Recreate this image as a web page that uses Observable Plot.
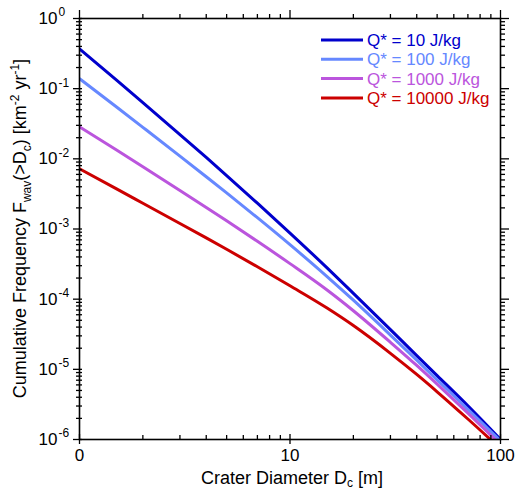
<!DOCTYPE html>
<html>
<head>
<meta charset="utf-8">
<script src="https://cdn.jsdelivr.net/npm/d3@7"></script>
<script src="https://cdn.jsdelivr.net/npm/@observablehq/plot@0.6"></script>
<style>
  html, body { margin: 0; padding: 0; background: #fff; }
  #chart svg { display: block; }
</style>
</head>
<body>
<div id="chart"></div>
<script>
// ---- data ----
const diameters = [1, 1.5, 2, 3, 4, 5, 7, 10, 15, 20, 30, 40, 50, 70, 100];
const seriesNames = ["Q* = 10 J/kg", "Q* = 100 J/kg", "Q* = 1000 J/kg", "Q* = 10000 J/kg"];
const seriesColors = ["#0000cc", "#6688ff", "#bb55dd", "#cc0000"];
const freqQ10    = [0.37, 0.132, 0.0632, 0.0222, 0.01045, 0.00577, 0.00233, 8.75e-4, 2.79e-4, 1.21e-4, 3.68e-5, 1.57e-5, 8.15e-6, 3.02e-6, 1.0e-6];
const freqQ100   = [0.139, 0.0547, 0.0281, 0.01094, 0.00556, 0.00327, 0.00145, 5.98e-4, 2.10e-4, 9.66e-5, 3.08e-5, 1.35e-5, 7.08e-6, 2.69e-6, 9.6e-7];
const freqQ1000  = [0.0286, 0.01337, 0.00773, 0.00355, 0.00203, 0.00131, 6.68e-4, 3.21e-4, 1.35e-4, 6.84e-5, 2.43e-5, 1.135e-5, 6.14e-6, 2.38e-6, 8.5e-7];
const freqQ10000 = [0.0072, 0.00373, 0.00233, 0.0012, 7.46e-4, 5.14e-4, 2.90e-4, 1.55e-4, 7.46e-5, 4.20e-5, 1.69e-5, 8.45e-6, 4.79e-6, 1.96e-6, 7.4e-7];
const xMajorTicks = [1, 10, 100];
const xTickLabels = ["0", "10", "100"];
const yExponents = [0, -1, -2, -3, -4, -5, -6];
const minorMultipliers = [2, 3, 4, 5, 6, 7, 8, 9];

// ---- layout ----
const W = 516, H = 490, mL = 79, mR = 16, mT = 18, mB = 51;
const pw = W - mL - mR, ph = H - mT - mB;
const font = "'Liberation Sans', Arial, Helvetica, sans-serif";

const allSeries = [freqQ10, freqQ100, freqQ1000, freqQ10000];
const data = allSeries.flatMap((arr, i) => arr.map((f, j) => ({D: diameters[j], F: f, series: seriesNames[i]})));
const xMinor = [1, 10].flatMap(b => minorMultipliers.map(m => m * b));
const yMajor = yExponents.map(e => 10 ** e);
const yMinor = yExponents.slice(1).flatMap(e => minorMultipliers.map(m => m * 10 ** e));

const tickStyle = {stroke: "black", strokeWidth: 1.3};

const svg = Plot.plot({
  width: W, height: H,
  marginLeft: mL, marginRight: mR, marginTop: mT, marginBottom: mB,
  style: {fontFamily: font, background: "white", overflow: "visible"},
  x: {type: "log", domain: [1, 100], axis: null},
  y: {type: "log", domain: [1e-6, 1], axis: null},
  color: {domain: seriesNames, range: seriesColors},
  marks: [
    Plot.line(data, {x: "D", y: "F", z: "series", stroke: "series", strokeWidth: 3, curve: "monotone-x", clip: true}),
    // ticks: bottom / top
    Plot.ruleX(xMinor, {x: d => d, insetTop: ph - 4, insetBottom: 0, ...tickStyle}),
    Plot.ruleX(xMajorTicks, {x: d => d, insetTop: ph - 5, insetBottom: -5, ...tickStyle}),
    Plot.ruleX(xMinor, {x: d => d, insetTop: -4, insetBottom: ph, ...tickStyle}),
    Plot.ruleX(xMajorTicks, {x: d => d, insetTop: -8, insetBottom: ph, ...tickStyle}),
    // ticks: left / right
    Plot.ruleY(yMinor, {y: d => d, insetLeft: -3, insetRight: pw - 3, ...tickStyle}),
    Plot.ruleY(yMajor, {y: d => d, insetLeft: -6, insetRight: pw - 3, ...tickStyle}),
    Plot.ruleY(yMinor, {y: d => d, insetLeft: pw, insetRight: -5, ...tickStyle}),
    Plot.ruleY(yMajor, {y: d => d, insetLeft: pw, insetRight: -9, ...tickStyle}),
    Plot.frame({stroke: "black", strokeWidth: 1.6}),
    // tick labels
    Plot.text(xMajorTicks, {x: d => d, text: (d, i) => xTickLabels[i], frameAnchor: "bottom", dy: 21, fontSize: 17, fill: "black"}),
    Plot.text(yMajor, {y: d => d, text: () => "10", frameAnchor: "left", textAnchor: "start", dx: -41, fontSize: 17, fill: "black"}),
    Plot.text(yExponents, {y: e => 10 ** e, text: e => e === 0 ? "0" : "-" + (-e), frameAnchor: "left", textAnchor: "start", dx: -21, dy: -6, fontSize: 12, fill: "black"})
  ]
});

const root = d3.select(svg);

// legend
const lg = root.append("g");
seriesNames.forEach((name, i) => {
  const y = 40 + i * 19.3;
  lg.append("line").attr("x1", 321).attr("x2", 363).attr("y1", y).attr("y2", y)
    .attr("stroke", seriesColors[i]).attr("stroke-width", 3);
  lg.append("text").attr("x", 367).attr("y", y).attr("dy", "0.36em")
    .attr("text-anchor", "start")
    .attr("fill", seriesColors[i]).attr("font-size", 17).attr("font-family", font)
    .text(name);
});

// rich-text helper: parts = [[text, "n"|"sub"|"sup"], ...]
function richText(sel, parts, size, subShift) {
  let off = 0;
  parts.forEach(([t, kind]) => {
    const target = kind === "sub" ? subShift : kind === "sup" ? -7 : 0;
    sel.append("tspan").attr("dy", target - off)
      .attr("font-size", kind === "n" ? size : Math.round(size * 0.66))
      .text(t);
    off = target;
  });
}

const yTitle = root.append("text")
  .attr("transform", `translate(26,${mT + ph / 2}) rotate(-90)`)
  .attr("text-anchor", "middle").attr("font-family", font).attr("font-size", 18).attr("fill", "black");
richText(yTitle, [["Cumulative Frequency F", "n"], ["wav", "sub"], ["(>D", "n"], ["c", "sub"], [") [km", "n"], ["-2", "sup"], [" yr", "n"], ["-1", "sup"], ["]", "n"]], 18, 5);

const xTitle = root.append("text")
  .attr("x", 292).attr("y", 484)
  .attr("text-anchor", "middle").attr("font-family", font).attr("font-size", 18).attr("fill", "black");
richText(xTitle, [["Crater Diameter D", "n"], ["c", "sub"], [" [m]", "n"]], 18, 3);

document.getElementById("chart").appendChild(svg);
</script>
</body>
</html>
